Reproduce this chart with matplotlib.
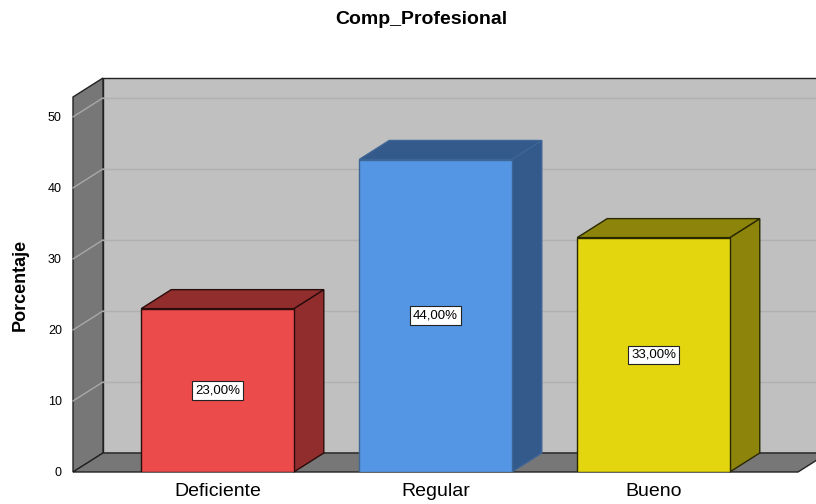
import matplotlib.pyplot as plt
from matplotlib.patches import Polygon

categorias = ['Deficiente', 'Regular', 'Bueno']
porcentajes = [23.0, 44.0, 33.0]
etiquetas = ['23,00%', '44,00%', '33,00%']
y_ticks = [0, 10, 20, 30, 40, 50]

colores_frente = ['#ec4b4b', '#5596e4', '#e3d60f']
colores_lado = ['#922d2d', '#335a8a', '#8c840b']
colores_borde = ['#2a0c0c', '#3d6596', '#2a2800']

plt.rcParams['font.family'] = ['Liberation Sans', 'DejaVu Sans']

fig = plt.figure(figsize=(8.16, 5.04), dpi=100)
ax = fig.add_axes([73 / 816, 32 / 504, 725 / 816, 375 / 504])

x0, x1 = -0.663, 2.663
y0, y1 = 0, 52.8
ax.set_xlim(x0, x1)
ax.set_ylim(y0, y1)

# profundidad del efecto 3D en unidades de datos
dx = 30 / 218
dy = 19 / 7.1
ancho = 0.7

pared_lateral = '#777777'
pared_fondo = '#c0c0c0'
linea = '#222222'

# pared del fondo
ax.add_patch(Polygon([(x0 + dx, y0 + dy), (x1 + dx, y0 + dy), (x1 + dx, y1 + dy), (x0 + dx, y1 + dy)],
                     closed=True, fc=pared_fondo, ec=linea, lw=1, clip_on=False, zorder=1))
# pared izquierda
ax.add_patch(Polygon([(x0, y0), (x0 + dx, y0 + dy), (x0 + dx, y1 + dy), (x0, y1)],
                     closed=True, fc=pared_lateral, ec=linea, lw=1, clip_on=False, zorder=1))
# suelo
ax.add_patch(Polygon([(x0, y0), (x1, y0), (x1 + dx, y0 + dy), (x0 + dx, y0 + dy)],
                     closed=True, fc=pared_lateral, ec=linea, lw=1, clip_on=False, zorder=1))

# lineas de la rejilla
for v in y_ticks[1:]:
    ax.plot([x0 + dx, x1 + dx], [v + dy, v + dy], color='#b0b0b0', lw=1, clip_on=False, zorder=2)
    ax.plot([x0, x0 + dx], [v, v + dy], color='#a8a8a8', lw=1, clip_on=False, zorder=2)

# barras 3D
for i, (cat, val) in enumerate(zip(categorias, porcentajes)):
    izq, der = i - ancho / 2, i + ancho / 2
    borde = colores_borde[i]
    ax.add_patch(Polygon([(der, 0), (der + dx, dy), (der + dx, val + dy), (der, val)],
                         closed=True, fc=colores_lado[i], ec=borde, lw=1, clip_on=False, zorder=3))
    ax.add_patch(Polygon([(izq, val), (der, val), (der + dx, val + dy), (izq + dx, val + dy)],
                         closed=True, fc=colores_lado[i], ec=borde, lw=1, clip_on=False, zorder=3))
    ax.bar(i, val, width=ancho, color=colores_frente[i], edgecolor=borde, lw=1, zorder=4)
    ax.text(i, val / 2, etiquetas[i], ha='center', va='center', fontsize=9.5, zorder=5,
            bbox=dict(boxstyle='square,pad=0.25', fc='white', ec='#222222', lw=0.8))

ax.set_xticks(range(len(categorias)))
ax.set_xticklabels(categorias, fontsize=14)
ax.set_yticks(y_ticks)
ax.tick_params(axis='both', length=0)
ax.tick_params(axis='x', pad=8)
ax.tick_params(axis='y', labelsize=9, pad=8)
for s in ax.spines.values():
    s.set_visible(False)

ax.set_ylabel('Porcentaje', fontsize=13, fontweight='bold', labelpad=14)
fig.text(421 / 816, 1 - 19 / 504, 'Comp_Profesional', ha='center', va='center',
         fontsize=14, fontweight='bold')

fig.savefig('out.png', dpi=100)
